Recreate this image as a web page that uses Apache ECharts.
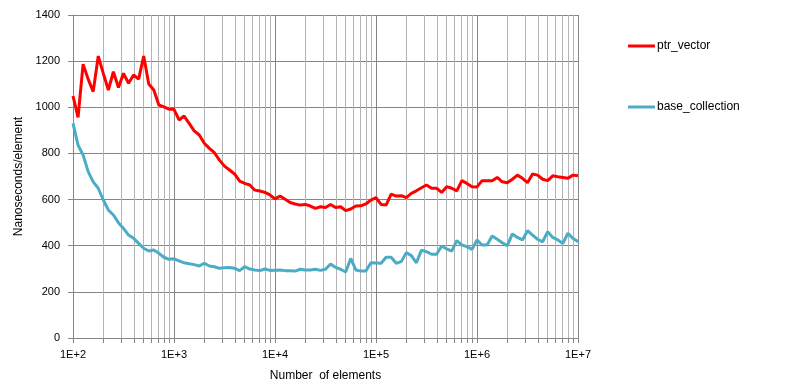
<!DOCTYPE html>
<html>
<head>
<meta charset="utf-8">
<script src="https://cdn.jsdelivr.net/npm/echarts@6/dist/echarts.min.js"></script>
<style>html,body{margin:0;padding:0;background:#fff;}#c{width:795px;height:390px;}</style>
</head>
<body>
<div id="c"></div>
<script>
// Number of elements: 20 points per decade, 1E2 .. 1E7
const sizeExponents = [];
for (let k = 0; k <= 100; k++) sizeExponents.push(2 + k / 20);
const sizes = sizeExponents.map(e => Math.pow(10, e));

const ptrVector = [
  1049, 956, 1187, 1122, 1068, 1222, 1147, 1075, 1154, 1086,
  1147, 1104, 1140, 1122, 1222, 1101, 1075, 1010, 1002, 992,
  991, 945, 962, 930, 898, 880, 844, 822, 803, 771,
  745, 728, 711, 680, 670, 663, 641, 637, 631, 620,
  603, 615, 601, 587, 581, 576, 579, 572, 562, 569,
  566, 579, 566, 569, 552, 559, 572, 573, 581, 598,
  608, 579, 576, 624, 615, 617, 608, 627, 638, 651,
  663, 649, 649, 631, 656, 649, 638, 682, 670, 656,
  655, 682, 682, 682, 696, 677, 673, 688, 706, 692,
  673, 711, 706, 688, 682, 703, 699, 696, 692, 706,
  703
];

const baseCollection = [
  930, 836, 793, 721, 677, 649, 598, 555, 533, 500,
  475, 446, 432, 410, 389, 377, 381, 367, 350, 341,
  343, 334, 326, 322, 318, 312, 324, 312, 309, 302,
  305, 306, 302, 292, 309, 299, 295, 292, 299, 293,
  294, 295, 292, 292, 290, 298, 295, 295, 298, 293,
  298, 321, 306, 298, 286, 345, 295, 290, 290, 326,
  325, 324, 350, 350, 324, 331, 370, 357, 326, 381,
  374, 363, 363, 399, 386, 377, 422, 403, 396, 384,
  425, 403, 403, 442, 428, 413, 400, 451, 436, 425,
  465, 446, 428, 417, 461, 436, 425, 410, 454, 432,
  417
];

const seriesNames = ['ptr_vector', 'base_collection'];
const xTickLabels = ['1E+2', '1E+3', '1E+4', '1E+5', '1E+6', '1E+7'];
const yTicks = [0, 200, 400, 600, 800, 1000, 1200, 1400];

// minor positions 2..9 within each decade
const minorValues = [];
for (let d = 2; d < 7; d++) for (let m = 2; m <= 9; m++) minorValues.push(m * Math.pow(10, d));
const allTickValues = [];
for (let d = 2; d <= 7; d++) {
  allTickValues.push(Math.pow(10, d));
  if (d < 7) for (let m = 2; m <= 9; m++) allTickValues.push(m * Math.pow(10, d));
}

const FONT = 'Liberation Sans';
const chart = echarts.init(document.getElementById('c'), null, {renderer: 'canvas'});
chart.setOption({
  animation: false,
  backgroundColor: '#ffffff',
  textStyle: {fontFamily: FONT},
  grid: {left: 73, right: 217, top: 15, bottom: 52, containLabel: false},
  legend: {
    orient: 'vertical',
    left: 623,
    top: 35,
    itemWidth: 27,
    itemHeight: 3,
    itemGap: 49,
    icon: 'rect',
    data: seriesNames.map((n, i) => ({name: n, itemStyle: {color: i === 0 ? '#ff0000' : '#4bacc6'}})),
    textStyle: {fontFamily: FONT, fontSize: 12, color: '#000', padding: [0, 0, 0, -3]},
    itemStyle: {borderWidth: 0}
  },
  xAxis: [{
    type: 'log',
    logBase: 10,
    min: 100,
    max: 1e7,
    name: 'Number  of elements',
    nameLocation: 'middle',
    nameGap: 32,
    nameTextStyle: {fontFamily: FONT, fontSize: 12, color: '#000'},
    axisLine: {show: true, lineStyle: {color: '#868686', width: 1}},
    axisTick: {show: true, length: 5, lineStyle: {color: '#868686'}},
    axisLabel: {
      margin: 11,
      fontFamily: FONT, fontSize: 11, color: '#000',
      formatter: v => xTickLabels[Math.round(Math.log10(v)) - 2]
    },
    splitLine: {show: true, lineStyle: {color: '#868686', width: 1}}
  }, {
    type: 'log',
    logBase: 10,
    min: 100,
    max: 1e7,
    position: 'bottom',
    axisLine: {show: false},
    axisLabel: {show: false},
    splitLine: {show: false},
    axisTick: {show: true, length: 5, customValues: allTickValues, lineStyle: {color: '#868686'}}
  }],
  yAxis: {
    type: 'value',
    min: 0,
    max: 1400,
    interval: 200,
    name: 'Nanoseconds/element',
    nameLocation: 'middle',
    nameGap: 41,
    nameRotate: 90,
    nameTextStyle: {fontFamily: FONT, fontSize: 12, color: '#000'},
    axisLine: {show: true, lineStyle: {color: '#868686', width: 1}},
    axisTick: {show: true, length: 5, lineStyle: {color: '#868686'}},
    axisLabel: {margin: 13, fontFamily: FONT, fontSize: 11, color: '#000',
      formatter: v => yTicks.includes(v) ? String(v) : ''},
    splitLine: {show: true, lineStyle: {color: '#868686', width: 1}}
  },
  series: [{
    name: '__minorgrid',
    type: 'line',
    data: [],
    z: 1,
    silent: true,
    markLine: {
      silent: true,
      z: 1,
      symbol: ['none', 'none'],
      label: {show: false},
      emphasis: {disabled: true},
      lineStyle: {color: '#b4b4b4', width: 1, type: 'solid'},
      data: minorValues.map(v => ({xAxis: v}))
    }
  }, {
    name: seriesNames[0],
    type: 'line',
    showSymbol: false,
    symbol: 'none',
    z: 3,
    color: '#ff0000',
    lineStyle: {color: '#ff0000', width: 3},
    data: sizes.map((s, i) => [s, ptrVector[i]])
  }, {
    name: seriesNames[1],
    type: 'line',
    showSymbol: false,
    symbol: 'none',
    z: 3,
    color: '#4bacc6',
    lineStyle: {color: '#4bacc6', width: 3},
    data: sizes.map((s, i) => [s, baseCollection[i]])
  }]
});
</script>
</body>
</html>
